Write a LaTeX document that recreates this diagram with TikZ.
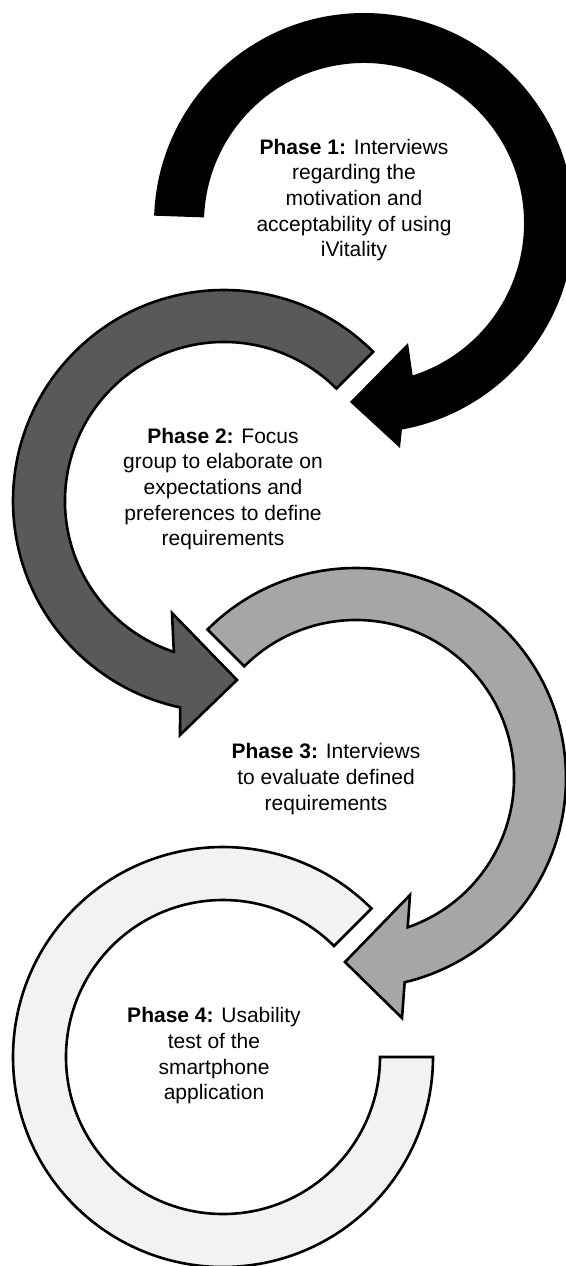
\documentclass[tikz,border=0pt]{standalone}
\usepackage{fontspec}
\setmainfont{Liberation Sans}
\usetikzlibrary{calc}
\definecolor{ringA}{HTML}{000000}
\definecolor{ringB}{HTML}{595959}
\definecolor{ringC}{HTML}{A6A6A6}
\definecolor{ringD}{HTML}{F2F2F2}
\tikzset{
  ring/.style={draw=black, line width=2.6pt, line join=miter},
  phase/.style={align=center, inner sep=0pt, font=\fontsize{21}{25.7}\selectfont}
}
\begin{document}
\begin{tikzpicture}[x=1pt,y=1pt]
\useasboundingbox (0,0) rectangle (565,-1266);
\coordinate (C1) at (364,-223);
\coordinate (C2) at (224,-501);
\coordinate (C3) at (356,-778);
\coordinate (C4) at (223,-1057);
% ring 1 (black)
\fill[ringA] ($(C1)+(178:210)$) arc[start angle=178, end angle=-79.6, radius=210]
  -- (400,-448) -- (350,-402) -- (408,-343)
  -- ($(C1)+(-72.3:160)$) arc[start angle=-72.3, end angle=178, radius=160] -- cycle;
% ring 2 (dark grey)
\filldraw[ring, fill=ringB] ($(C2)+(45:211)$) arc[start angle=45, end angle=258, radius=211]
  -- (180,-735) -- (237,-680) -- (172,-613)
  -- ($(C2)+(251.6:159)$) arc[start angle=251.6, end angle=45, radius=159] -- cycle;
% ring 3 (light grey)
\filldraw[ring, fill=ringC] ($(C3)+(135:210)$) arc[start angle=135, end angle=-76.6, radius=210]
  -- (402,-1018) -- (345,-962) -- (410,-895)
  -- ($(C3)+(-70.9:158)$) arc[start angle=-70.9, end angle=135, radius=158] -- cycle;
% ring 4 (lightest)
\filldraw[ring, fill=ringD] ($(C4)+(45:210)$) arc[start angle=45, end angle=360, radius=210]
  -- ($(C4)+(0:157)$) arc[start angle=360, end angle=45, radius=157] -- cycle;
% texts
\node[phase] (p1) at (354,-200) {\textbf{Phase 1:} Interviews\\regarding the\\motivation and\\acceptability of using\\iVitality};
\node[phase] (p2) at (223,-489) {\textbf{Phase 2:} Focus\\group to elaborate on\\expectations and\\preferences to define\\requirements};
\node[phase] (p3) at (326,-779) {\textbf{Phase 3:} Interviews\\to evaluate defined\\requirements};
\node[phase] (p4) at (214,-1056) {\textbf{Phase 4:} Usability\\test of the\\smartphone\\application};
\end{tikzpicture}
\end{document}
